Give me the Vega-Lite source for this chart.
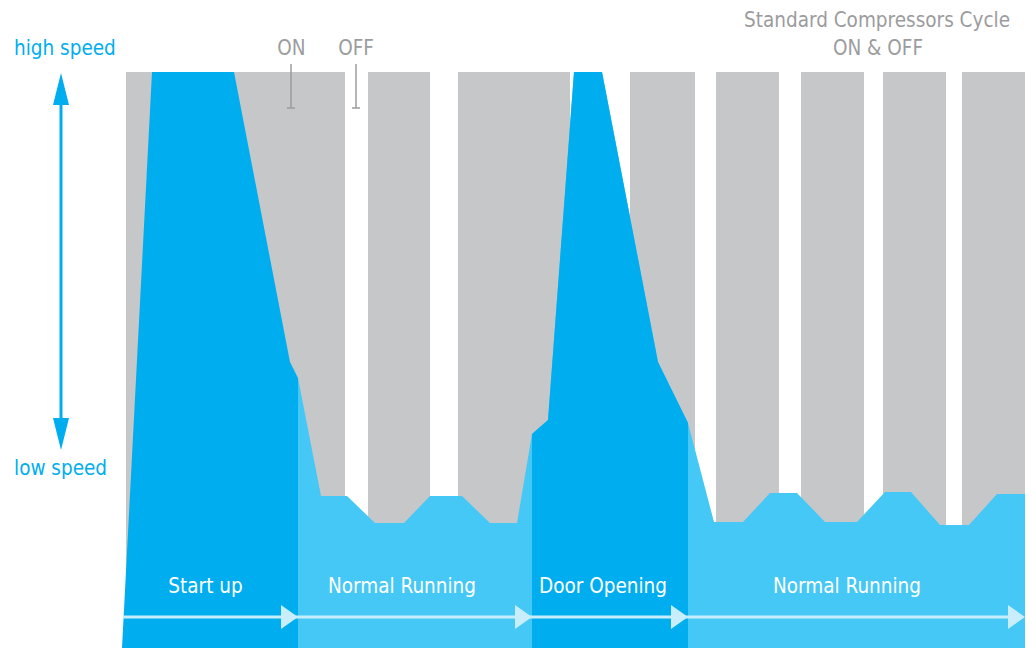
{
  "$schema": "https://vega.github.io/schema/vega-lite/v6.json",
  "autosize": {"type": "fit", "contains": "padding"},
  "width": 1032,
  "height": 648,
  "padding": 0,
  "background": "white",
  "config": {"view": {"stroke": null}},
  "encoding": {
    "x": {"type": "quantitative", "scale": {"domain": [0, 1032], "nice": false, "zero": false}, "axis": null},
    "y": {"type": "quantitative", "scale": {"domain": [0, 648], "nice": false, "zero": false}, "axis": null}
  },
  "layer": [
    {
      "data": {"values": [
        {"start": 126, "end": 345}, {"start": 368, "end": 430}, {"start": 458, "end": 570},
        {"start": 630, "end": 695}, {"start": 716, "end": 779}, {"start": 801, "end": 864},
        {"start": 883, "end": 946}, {"start": 962, "end": 1025}
      ]},
      "mark": {"type": "rect", "color": "#c6c7c9"},
      "encoding": {
        "x": {"field": "start", "type": "quantitative"},
        "x2": {"field": "end"},
        "y": {"datum": 576},
        "y2": {"datum": 0}
      }
    },
    {
      "data": {"values": [
        {"t": 298, "v": 270}, {"t": 321, "v": 152}, {"t": 347, "v": 152}, {"t": 375, "v": 125},
        {"t": 404, "v": 125}, {"t": 430, "v": 152}, {"t": 462, "v": 152}, {"t": 490, "v": 125},
        {"t": 517, "v": 125}, {"t": 532, "v": 214}, {"t": 548, "v": 228}, {"t": 574, "v": 576},
        {"t": 602, "v": 576}, {"t": 658, "v": 286}, {"t": 688, "v": 225}, {"t": 714, "v": 126},
        {"t": 743, "v": 126}, {"t": 770, "v": 155}, {"t": 797, "v": 155}, {"t": 825, "v": 126},
        {"t": 857, "v": 126}, {"t": 885, "v": 156}, {"t": 911, "v": 156}, {"t": 940, "v": 123},
        {"t": 969, "v": 123}, {"t": 997, "v": 154}, {"t": 1025, "v": 154}
      ]},
      "mark": {"type": "area", "color": "#45c8f5", "opacity": 1, "interpolate": "linear"},
      "encoding": {
        "x": {"field": "t", "type": "quantitative"},
        "y": {"field": "v", "type": "quantitative"},
        "y2": {"datum": 0}
      }
    },
    {
      "data": {"values": [
        {"t": 122, "v": 0}, {"t": 152, "v": 576},
        {"t": 234, "v": 576}, {"t": 290, "v": 286},
        {"t": 298, "v": 270}
      ]},
      "mark": {"type": "area", "color": "#00aeef", "opacity": 1, "interpolate": "linear"},
      "encoding": {
        "x": {"field": "t", "type": "quantitative"},
        "y": {"field": "v", "type": "quantitative"},
        "y2": {"datum": 0}
      }
    },
    {
      "data": {"values": [
        {"t": 532, "v": 214}, {"t": 548, "v": 228},
        {"t": 574, "v": 576}, {"t": 602, "v": 576},
        {"t": 658, "v": 286}, {"t": 688, "v": 225}
      ]},
      "mark": {"type": "area", "color": "#00aeef", "opacity": 1, "interpolate": "linear"},
      "encoding": {
        "x": {"field": "t", "type": "quantitative"},
        "y": {"field": "v", "type": "quantitative"},
        "y2": {"datum": 0}
      }
    },
    {
      "data": {"values": [
        {"x1": 291, "x2": 291, "y1": 584, "y2": 540},
        {"x1": 287, "x2": 295, "y1": 540, "y2": 540},
        {"x1": 356, "x2": 356, "y1": 584, "y2": 540},
        {"x1": 352, "x2": 360, "y1": 540, "y2": 540}
      ]},
      "mark": {"type": "rule", "color": "#9d9d9f", "strokeWidth": 1.5},
      "encoding": {
        "x": {"field": "x1", "type": "quantitative"},
        "x2": {"field": "x2"},
        "y": {"field": "y1", "type": "quantitative"},
        "y2": {"field": "y2"}
      }
    },
    {
      "data": {"values": [{"x1": 123, "x2": 1010, "y1": 31, "y2": 31}]},
      "mark": {"type": "rule", "color": "#c8eefb", "strokeWidth": 3},
      "encoding": {
        "x": {"field": "x1", "type": "quantitative"},
        "x2": {"field": "x2"},
        "y": {"field": "y1", "type": "quantitative"},
        "y2": {"field": "y2"}
      }
    },
    {
      "data": {"values": [{"t": 289.5, "v": 31}, {"t": 523.5, "v": 31}, {"t": 679.5, "v": 31}, {"t": 1016.5, "v": 31}]},
      "mark": {"type": "point", "shape": "M-1,-1.4L1,0L-1,1.4Z", "filled": true, "size": 289, "color": "#c8eefb", "opacity": 1, "strokeWidth": 0},
      "encoding": {
        "x": {"field": "t", "type": "quantitative"},
        "y": {"field": "v", "type": "quantitative"}
      }
    },
    {
      "data": {"values": [{"x1": 61, "x2": 61, "y1": 552, "y2": 220}]},
      "mark": {"type": "rule", "color": "#00aeef", "strokeWidth": 3},
      "encoding": {
        "x": {"field": "x1", "type": "quantitative"},
        "x2": {"field": "x2"},
        "y": {"field": "y1", "type": "quantitative"},
        "y2": {"field": "y2"}
      }
    },
    {
      "data": {"values": [{"t": 61, "v": 559}]},
      "mark": {"type": "point", "shape": "M0,-2L1,2L-1,2Z", "filled": true, "size": 256, "color": "#00aeef", "opacity": 1, "strokeWidth": 0},
      "encoding": {
        "x": {"field": "t", "type": "quantitative"},
        "y": {"field": "v", "type": "quantitative"}
      }
    },
    {
      "data": {"values": [{"t": 61, "v": 214}]},
      "mark": {"type": "point", "shape": "M0,2L1,-2L-1,-2Z", "filled": true, "size": 256, "color": "#00aeef", "opacity": 1, "strokeWidth": 0},
      "encoding": {
        "x": {"field": "t", "type": "quantitative"},
        "y": {"field": "v", "type": "quantitative"}
      }
    },
    {
      "data": {"values": [{"t": 14, "v": 593, "label": "high speed"}, {"t": 14, "v": 173, "label": "low speed"}]},
      "mark": {"type": "text", "align": "left", "baseline": "alphabetic", "font": "DejaVu Sans Condensed, sans-serif", "fontSize": 20.5, "color": "#00aeef"},
      "encoding": {
        "x": {"field": "t", "type": "quantitative"},
        "y": {"field": "v", "type": "quantitative"},
        "text": {"field": "label"}
      }
    },
    {
      "data": {"values": [
        {"t": 291.5, "v": 593, "label": "ON"}, {"t": 356, "v": 593, "label": "OFF"},
        {"t": 877, "v": 621, "label": "Standard Compressors Cycle"}, {"t": 878, "v": 593, "label": "ON & OFF"}
      ]},
      "mark": {"type": "text", "align": "center", "baseline": "alphabetic", "font": "DejaVu Sans Condensed, sans-serif", "fontSize": 20.5, "color": "#9b9c9e"},
      "encoding": {
        "x": {"field": "t", "type": "quantitative"},
        "y": {"field": "v", "type": "quantitative"},
        "text": {"field": "label"}
      }
    },
    {
      "data": {"values": [
        {"t": 205.5, "v": 55, "label": "Start up"}, {"t": 402, "v": 55, "label": "Normal Running"},
        {"t": 603, "v": 55, "label": "Door Opening"}, {"t": 847, "v": 55, "label": "Normal Running"}
      ]},
      "mark": {"type": "text", "align": "center", "baseline": "alphabetic", "font": "DejaVu Sans Condensed, sans-serif", "fontSize": 20.5, "color": "#ffffff"},
      "encoding": {
        "x": {"field": "t", "type": "quantitative"},
        "y": {"field": "v", "type": "quantitative"},
        "text": {"field": "label"}
      }
    }
  ]
}
